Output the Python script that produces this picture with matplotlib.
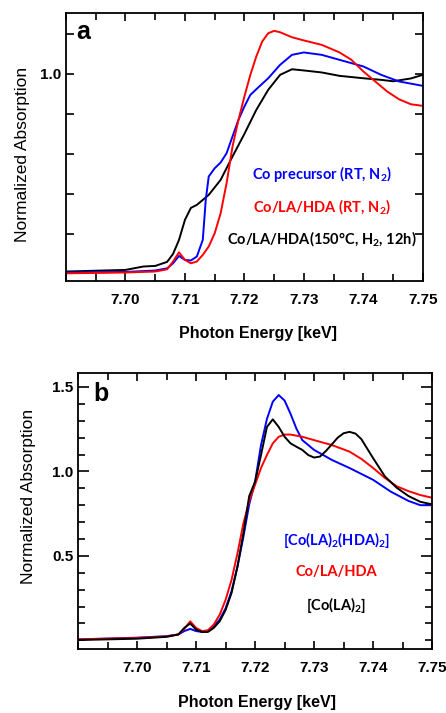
import numpy as np
import matplotlib.pyplot as plt
from matplotlib.ticker import MultipleLocator, FixedLocator

# ---- panel a data (energy in keV, normalized absorption) ----
e_a_black = [7.690, 7.700, 7.703, 7.705, 7.707, 7.708, 7.709, 7.710, 7.711, 7.712, 7.713,
             7.714, 7.716, 7.718, 7.720, 7.722, 7.724, 7.726, 7.728, 7.730, 7.733, 7.736,
             7.740, 7.743, 7.745, 7.748, 7.750]
mu_a_black = [0.012, 0.020, 0.037, 0.040, 0.060, 0.100, 0.170, 0.270, 0.330, 0.345, 0.370,
              0.395, 0.470, 0.587, 0.700, 0.820, 0.920, 0.995, 1.023, 1.017, 1.007, 0.990,
              0.978, 0.970, 0.963, 0.977, 0.995]

e_a_blue = [7.690, 7.700, 7.705, 7.707, 7.708, 7.709, 7.710, 7.711, 7.712, 7.713, 7.7135,
            7.714, 7.715, 7.716, 7.717, 7.718, 7.719, 7.720, 7.721, 7.722, 7.724, 7.726,
            7.728, 7.730, 7.733, 7.736, 7.740, 7.743, 7.746, 7.750]
mu_a_blue = [0.007, 0.010, 0.017, 0.028, 0.053, 0.090, 0.070, 0.067, 0.087, 0.170, 0.370,
             0.487, 0.528, 0.557, 0.603, 0.687, 0.770, 0.837, 0.895, 0.923, 0.978, 1.045,
             1.095, 1.107, 1.095, 1.070, 1.037, 0.995, 0.962, 0.940]

e_a_red = [7.690, 7.700, 7.705, 7.707, 7.708, 7.709, 7.710, 7.711, 7.712, 7.713, 7.714,
           7.715, 7.716, 7.717, 7.718, 7.719, 7.720, 7.721, 7.722, 7.723, 7.724, 7.725,
           7.726, 7.728, 7.730, 7.733, 7.736, 7.738, 7.740, 7.742, 7.744, 7.746, 7.748, 7.750]
mu_a_red = [0.003, 0.007, 0.012, 0.023, 0.062, 0.108, 0.070, 0.053, 0.062, 0.095, 0.137,
            0.203, 0.303, 0.453, 0.637, 0.770, 0.887, 0.995, 1.087, 1.162, 1.203, 1.215,
            1.208, 1.183, 1.167, 1.145, 1.107, 1.070, 1.012, 0.962, 0.912, 0.873, 0.848, 0.840]

# ---- panel b data ----
e_b = [7.690, 7.700, 7.705, 7.707, 7.708, 7.709, 7.710, 7.711, 7.712, 7.713, 7.714, 7.715,
       7.716, 7.717, 7.718, 7.719, 7.720, 7.721, 7.722, 7.723, 7.724, 7.725, 7.726, 7.727,
       7.728, 7.730, 7.733, 7.736, 7.740, 7.743, 7.746, 7.748, 7.750]
mu_b_blue = [0.006, 0.016, 0.025, 0.035, 0.055, 0.068, 0.055, 0.050, 0.055, 0.084, 0.123, 0.190,
             0.290, 0.435, 0.610, 0.805, 0.940, 1.156, 1.310, 1.413, 1.452, 1.419, 1.341, 1.253,
             1.185, 1.127, 1.068, 1.020, 0.950, 0.880, 0.825, 0.800, 0.800]

e_b_red = [7.690, 7.700, 7.705, 7.707, 7.708, 7.709, 7.710, 7.711, 7.712, 7.713, 7.714, 7.715,
           7.716, 7.717, 7.718, 7.719, 7.720, 7.721, 7.722, 7.723, 7.724, 7.725, 7.726, 7.728,
           7.730, 7.733, 7.736, 7.738, 7.740, 7.742, 7.744, 7.746, 7.748, 7.750]
mu_b_red = [0.006, 0.014, 0.023, 0.035, 0.068, 0.113, 0.074, 0.055, 0.060, 0.094, 0.152, 0.240,
            0.357, 0.513, 0.690, 0.825, 0.922, 1.020, 1.097, 1.166, 1.205, 1.218, 1.218, 1.205,
            1.185, 1.156, 1.117, 1.074, 1.020, 0.961, 0.912, 0.883, 0.860, 0.844]

e_b_black = [7.690, 7.700, 7.705, 7.707, 7.708, 7.709, 7.710, 7.711, 7.712, 7.713, 7.714, 7.715,
             7.716, 7.717, 7.718, 7.719, 7.720, 7.721, 7.722, 7.723, 7.724, 7.725, 7.726, 7.727,
             7.728, 7.729, 7.730, 7.731, 7.732, 7.733, 7.734, 7.735, 7.736, 7.737, 7.738, 7.740,
             7.742, 7.744, 7.746, 7.748, 7.750]
mu_b_black = [0.002, 0.010, 0.021, 0.035, 0.074, 0.100, 0.064, 0.050, 0.050, 0.074, 0.113, 0.180,
              0.280, 0.435, 0.630, 0.854, 0.940, 1.097, 1.263, 1.308, 1.263, 1.205, 1.166, 1.146,
              1.127, 1.097, 1.082, 1.088, 1.121, 1.160, 1.200, 1.226, 1.234, 1.224, 1.191, 1.078,
              0.970, 0.903, 0.854, 0.820, 0.805]

labels_a = ["Co precursor (RT, N$_2$)", "Co/LA/HDA (RT, N$_2$)", "Co/LA/HDA(150°C, H$_2$, 12h)"]
labels_b = ["[Co(LA)$_2$(HDA)$_2$]", "Co/LA/HDA", "[Co(LA)$_2$]"]
x_ticks = [7.70, 7.71, 7.72, 7.73, 7.74, 7.75]

plt.rcParams['mathtext.fontset'] = 'custom'
plt.rcParams['mathtext.rm'] = 'Lato:bold'
plt.rcParams['mathtext.it'] = 'Lato:bold'

fig = plt.figure(figsize=(4.46, 7.13), dpi=100)
ax_a = fig.add_axes([0.148, 0.606, 0.800, 0.376])
ax_b = fig.add_axes([0.175, 0.090, 0.794, 0.387])

tick_font = dict(family='Liberation Sans', weight='bold', size=11)
lw = 1.4


def style_axes(ax, xlab_x, ylab_x, ylab_y):
    for s in ax.spines.values():
        s.set_linewidth(1.3)
    ax.set_xlim(7.69, 7.75)
    ax.xaxis.set_major_locator(FixedLocator(x_ticks))
    ax.xaxis.set_minor_locator(MultipleLocator(0.005))
    ax.tick_params(which='both', direction='in', top=True, right=True, width=1.2)
    ax.tick_params(which='major', length=6)
    ax.tick_params(which='minor', length=5)
    ax.tick_params(axis='x', pad=9)
    ax.set_xticklabels([f"{t:.2f}" for t in x_ticks], fontdict=tick_font)
    ax.set_xlabel("Photon Energy [keV]", family='Liberation Sans', weight='bold', size=11.5,
                  va='center')
    ax.set_ylabel("Normalized Absorption", family='Liberation Sans', size=12.5, va='center')
    ax.xaxis.set_label_coords(xlab_x, -0.196)
    ax.yaxis.set_label_coords(ylab_x, ylab_y)


# panel a
ax_a.plot(e_a_black, mu_a_black, color='black', lw=lw)
ax_a.plot(e_a_blue, mu_a_blue, color='blue', lw=lw)
ax_a.plot(e_a_red, mu_a_red, color='red', lw=lw)
style_axes(ax_a, 0.538, -0.123, 0.47)
ax_a.set_ylim(-0.035, 1.305)
ax_a.yaxis.set_major_locator(FixedLocator([1.0]))
ax_a.yaxis.set_minor_locator(FixedLocator([0.2, 0.4, 0.6, 0.8, 1.2]))
ax_a.set_yticklabels(["1.0"], fontdict=tick_font)
ax_a.tick_params(axis='y', which='minor', length=6)
ax_a.text(0.03, 0.975, "a", transform=ax_a.transAxes, family='Liberation Sans',
          weight='bold', size=18, ha='left', va='top')
for txt, col, y in zip(labels_a, ['blue', 'red', 'black'], [0.40, 0.276, 0.157]):
    ax_a.text(0.718, y, txt, transform=ax_a.transAxes, color=col, family='Lato',
              weight='bold', size=10.5, ha='center', va='center')

# panel b
ax_b.plot(e_b, mu_b_blue, color='blue', lw=lw)
ax_b.plot(e_b_red, mu_b_red, color='red', lw=lw)
ax_b.plot(e_b_black, mu_b_black, color='black', lw=lw)
style_axes(ax_b, 0.505, -0.141, 0.551)
ax_b.set_ylim(-0.05, 1.583)
ax_b.yaxis.set_major_locator(FixedLocator([0.5, 1.0, 1.5]))
ax_b.yaxis.set_minor_locator(MultipleLocator(0.1))
ax_b.set_yticklabels(["0.5", "1.0", "1.5"], fontdict=tick_font)
ax_b.tick_params(axis='y', which='major', length=8)
ax_b.text(0.042, 0.968, "b", transform=ax_b.transAxes, family='Liberation Sans',
          weight='bold', size=18, ha='left', va='top')
for txt, col, y in zip(labels_b, ['blue', 'red', 'black'], [0.395, 0.28, 0.16]):
    ax_b.text(0.73, y, txt, transform=ax_b.transAxes, color=col, family='Lato',
              weight='bold', size=10.5, ha='center', va='center')

fig.savefig("out.png", dpi=100)
